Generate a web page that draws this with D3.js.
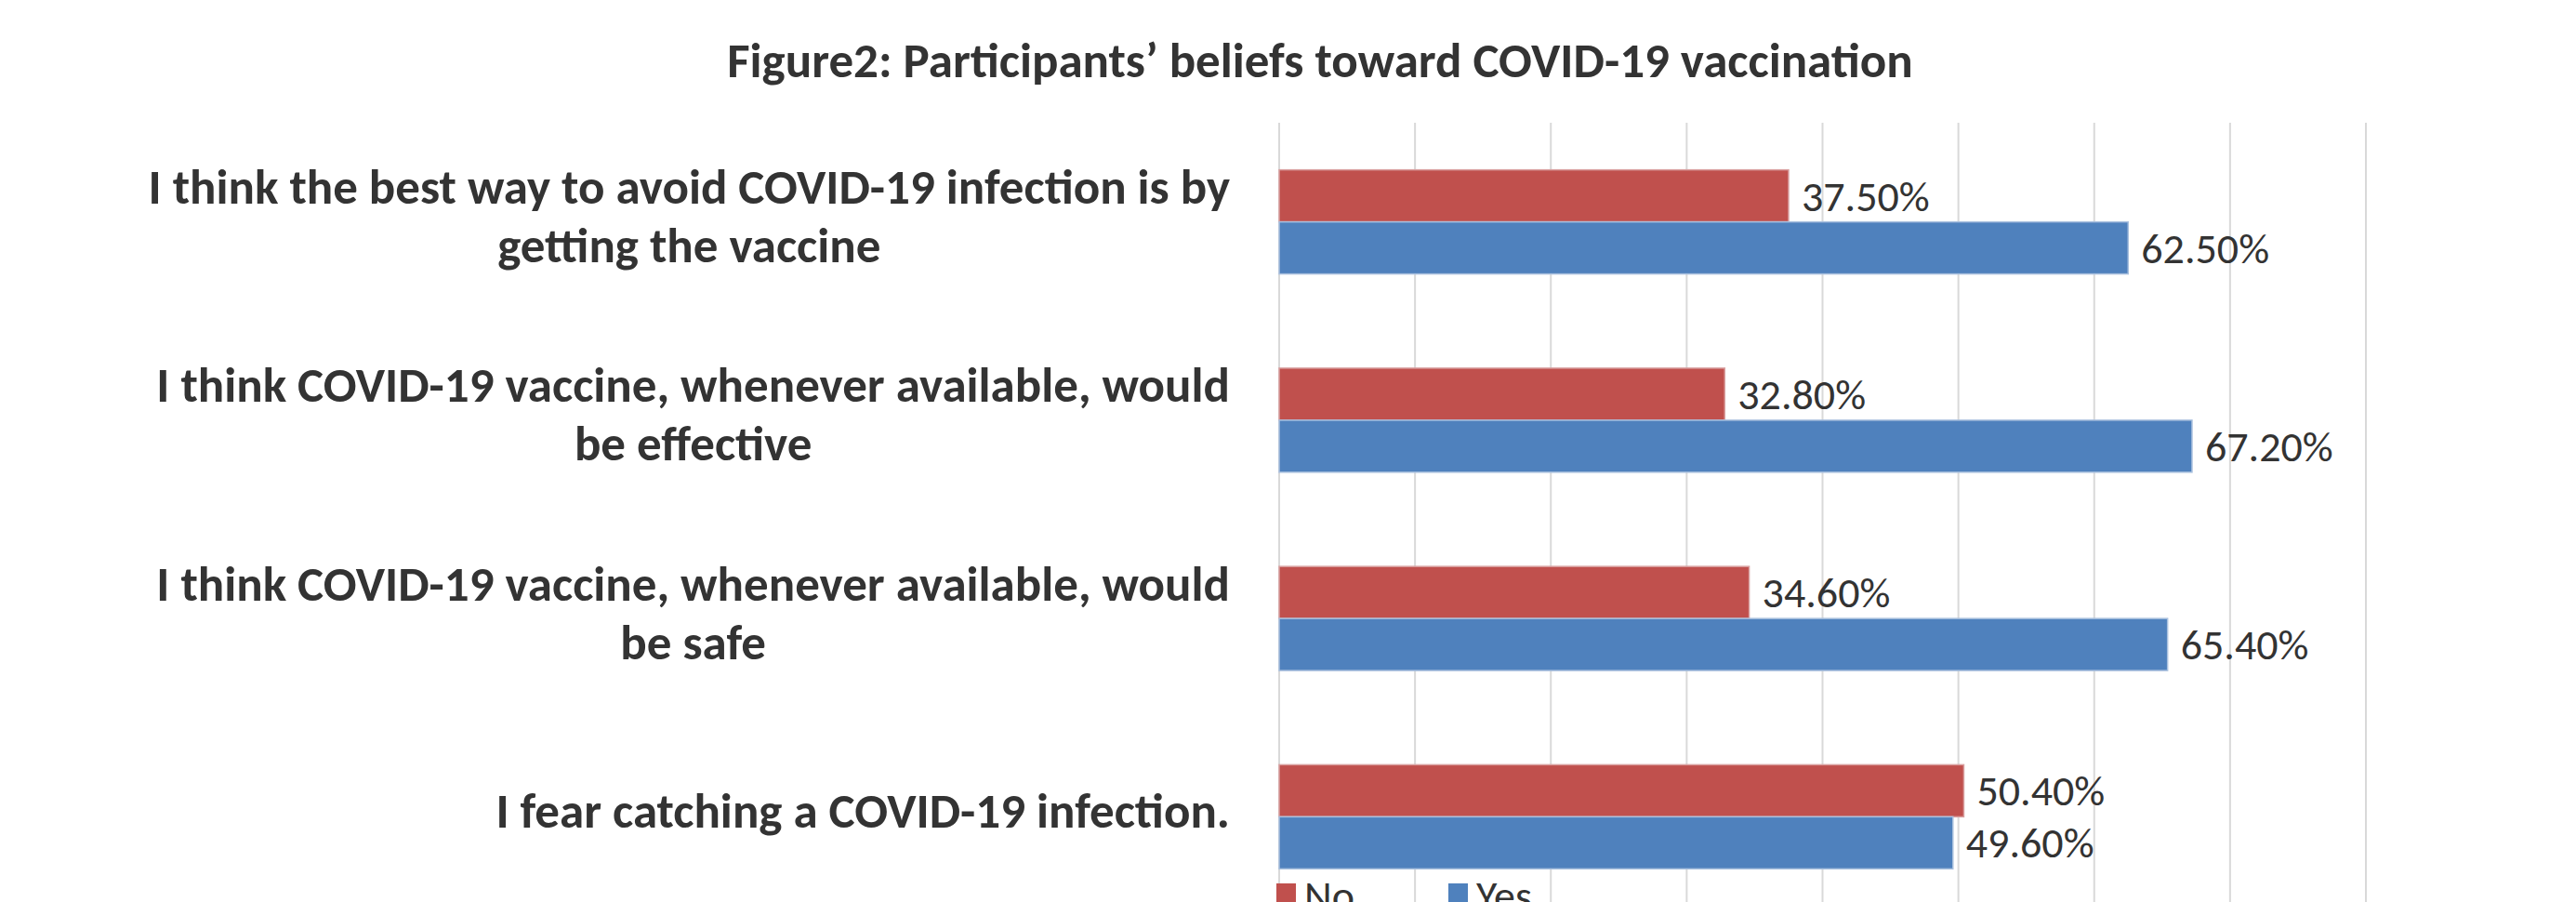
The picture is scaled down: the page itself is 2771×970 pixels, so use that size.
<!DOCTYPE html>
<html>
<head>
    <script type="text/javascript" src="https://cdn.jsdelivr.net/npm/d3@7"></script>
</head>
<body style="margin:0;background:#fff;">

<style type="text/css">
    svg { display:block; }
    text { font-family: Carlito, "Liberation Sans Narrow", "Liberation Sans", sans-serif; fill:#333333; }
</style>

<script type="text/javascript">
    // chart data
    var categories = [
        "I think the best way to avoid COVID-19 infection is by\ngetting the vaccine",
        "I think COVID-19 vaccine, whenever available, would\nbe effective",
        "I think COVID-19 vaccine, whenever available, would\nbe safe",
        "I fear catching a COVID-19 infection."
    ];
    var seriesNames = ["No", "Yes"];
    var noValues  = [0.375, 0.328, 0.346, 0.504];
    var yesValues = [0.625, 0.672, 0.654, 0.496];
    var xTicks = [0, 0.1, 0.2, 0.3, 0.4, 0.5, 0.6, 0.7, 0.8];
    var colors = ["#C0504D", "#4F81BD"];
    var strokes = ["#D9A0A0", "#A9C0DE"];

    var W = 2771, H = 970;
    var plotLeft = 1376, plotRight = 2545, plotTop = 132, plotBottom = 985;

    var svg = d3.select("body").append("svg")
        .attr("width", W).attr("height", H);

    svg.append("text")
        .attr("x", 1420).attr("y", 83)
        .attr("text-anchor", "middle")
        .attr("font-size", 53).attr("font-weight", "bold")
        .text("Figure2: Participants’ beliefs toward COVID-19 vaccination");

    var x = d3.scaleLinear().domain([0, 0.8]).range([plotLeft, plotRight]);
    var y = d3.scaleBand().domain(d3.range(categories.length))
        .range([plotTop, plotBottom]).paddingInner(0.475).paddingOuter(0.2375);
    var sub = d3.scaleBand().domain(seriesNames).range([0, y.bandwidth()]);

    // gridlines
    svg.append("g").selectAll("line")
        .data(xTicks).enter().append("line")
        .attr("x1", function(d){ return x(d); })
        .attr("x2", function(d){ return x(d); })
        .attr("y1", plotTop).attr("y2", H)
        .attr("stroke", "#D9D9D9").attr("stroke-width", 2);

    var rows = categories.map(function(c, i){
        return { cat: c, i: i, vals: [noValues[i], yesValues[i]] };
    });

    var groups = svg.append("g").selectAll("g")
        .data(rows).enter().append("g")
        .attr("transform", function(d){ return "translate(0," + y(d.i) + ")"; });

    groups.selectAll("rect")
        .data(function(d){ return d.vals.map(function(v, k){ return { v: v, k: k }; }); })
        .enter().append("rect")
        .attr("x", x(0))
        .attr("y", function(d){ return sub(seriesNames[d.k]); })
        .attr("width", function(d){ return x(d.v) - x(0); })
        .attr("height", sub.bandwidth())
        .attr("fill", function(d){ return colors[d.k]; })
        .attr("stroke", function(d){ return strokes[d.k]; })
        .attr("stroke-width", 1.5);

    groups.selectAll("text.val")
        .data(function(d){ return d.vals.map(function(v, k){ return { v: v, k: k }; }); })
        .enter().append("text")
        .attr("class", "val")
        .attr("x", function(d){ return x(d.v) + 14; })
        .attr("y", function(d){ return sub(seriesNames[d.k]) + sub.bandwidth() / 2; })
        .attr("dy", "0.35em")
        .attr("font-size", 46)
        .text(function(d){ return d3.format(".2%")(d.v); });

    // category labels: block right aligned at the axis, lines centred inside it
    var lineH = 63, capH = 34, labelRight = 1323;
    rows.forEach(function(d){
        var lines = d.cat.split("\n");
        var cy = y(d.i) + y.bandwidth() / 2;
        var g = svg.append("g");
        var ts = lines.map(function(l, j){
            return g.append("text")
                .attr("y", cy - (lines.length - 1) * lineH / 2 + capH / 2 - 5 + j * lineH)
                .attr("text-anchor", "middle")
                .attr("font-size", 53).attr("font-weight", "bold")
                .text(l);
        });
        var wmax = d3.max(ts, function(t){ return t.node().getComputedTextLength(); });
        ts.forEach(function(t){ t.attr("x", labelRight - wmax / 2); });
    });

    // legend
    var legX = [1373, 1558];
    var leg = svg.append("g").selectAll("g")
        .data(seriesNames).enter().append("g")
        .attr("transform", function(d, i){ return "translate(" + legX[i] + ",950)"; });
    leg.append("rect").attr("width", 21).attr("height", 21)
        .attr("fill", function(d, i){ return colors[i]; });
    leg.append("text").attr("x", 30).attr("y", 29)
        .attr("font-size", 46).text(function(d){ return d; });
</script>

</body>
</html>
